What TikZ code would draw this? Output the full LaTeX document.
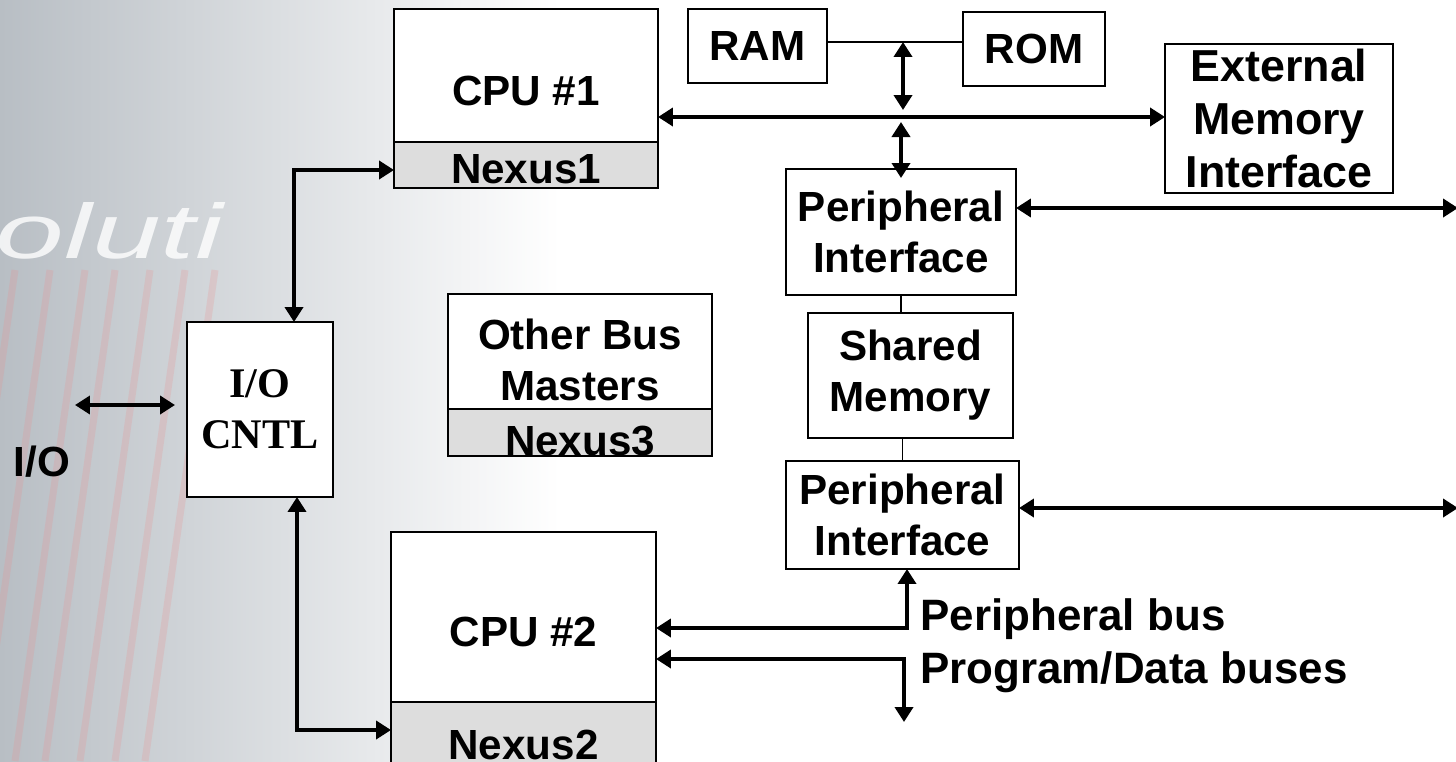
\documentclass[tikz,border=0pt]{standalone}
\usepackage{fontspec}
\setmainfont{Liberation Sans}
\newfontfamily\cntlfont{Liberation Serif}
\usetikzlibrary{positioning, arrows.meta}
\definecolor{nexusgray}{RGB}{221,221,221}
\definecolor{bggray}{RGB}{184,190,196}
\definecolor{streak}{RGB}{236,140,140}
\tikzset{
  blk/.style={draw, line width=1.1pt, fill=white, inner sep=0pt, outer sep=0pt, align=center},
  nexus/.style={blk, fill=nexusgray},
  bus/.style={{Triangle[length=0.3cm,width=0.36cm]}-{Triangle[length=0.3cm,width=0.36cm]}, line width=2.8pt},
  wire/.style={line width=0.9pt},
}
\begin{document}
\begin{tikzpicture}[x=0.02cm, y=-0.02cm, font=\bfseries\fontsize{24}{29}\selectfont]
\useasboundingbox (0,0) rectangle (1456,761);
% Draw background
\shade[left color=bggray, right color=white] (0,0) rectangle (560,761);
\foreach \x in {15,50,85,115,150,185,215}
    \draw[streak, line width=4pt, opacity=0.22] (\x,270) -- (\x-70,761);
\node[white, opacity=0.8, font=\mdseries\itshape\fontsize{44}{44}\selectfont, xscale=1.6, anchor=base west] (wmark) at (-14,258) {oluti};
% Draw blocks
\node[blk, minimum width=5.28cm, minimum height=2.66cm, label={[name=cpu1lbl, yshift=-0.3cm]center:CPU \#1}] (cpu1) at (526,75.5) {};
\node[nexus, minimum width=5.28cm, minimum height=0.92cm, below=0pt of cpu1, label={[name=nexus1lbl, yshift=-0.08cm]center:Nexus1}] (nexus1) {};
\node[blk, minimum width=2.78cm, minimum height=1.48cm] (ram) at (757.5,46) {RAM};
\node[blk, minimum width=2.84cm, minimum height=1.48cm] (rom) at (1034,49) {ROM};
\node[blk, minimum width=4.56cm, minimum height=2.98cm, font=\bfseries\fontsize{25.5}{30}\selectfont] (emi) at (1279,118.5) {External\\Memory\\Interface};
\node[blk, minimum width=4.6cm, minimum height=2.52cm] (pi1) at (901,232) {Peripheral\\Interface};
\node[blk, minimum width=4.1cm, minimum height=2.5cm] (shm) at (910.5,375.5) {Shared\\Memory};
\node[blk, minimum width=4.66cm, minimum height=2.16cm] (pi2) at (902.5,515) {Peripheral\\Interface};
\node[blk, minimum width=5.28cm, minimum height=2.3cm, label={[name=obmlbl, align=center, yshift=-0.16cm]center:{Other Bus\\Masters}}] (obm) at (580,351.5) {};
\node[nexus, minimum width=5.28cm, minimum height=0.94cm, below=0pt of obm, label={[name=nexus3lbl, yshift=-0.17cm]center:Nexus3}] (nexus3) {};
\node[blk, minimum width=2.92cm, minimum height=3.5cm, font=\cntlfont\bfseries\fontsize{24}{29}\selectfont] (iocntl) at (260,409.5) {I/O\\CNTL};
\node[blk, minimum width=5.3cm, minimum height=3.4cm, label={[name=cpu2lbl, yshift=-0.3cm]center:CPU \#2}] (cpu2) at (523.5,617) {};
\node[nexus, minimum width=5.3cm, minimum height=1.36cm, below=0pt of cpu2, label={[name=nexus2lbl, yshift=-0.18cm]center:Nexus2}] (nexus2) {};
% Main bus and memories
\coordinate (memtap) at (903,42);
\coordinate (mainbus) at (903,117);
\draw[wire] (ram.east |- memtap) -- (rom.west |- memtap);
\draw[bus, shorten >=0.14cm] (memtap) -- (mainbus);
\draw[bus] (cpu1.east |- mainbus) -- (emi.west |- mainbus);
\draw[bus, shorten <=0.1cm, shorten >=-0.18cm] (pi1.north |- mainbus) -- (pi1.north);
% Peripheral outputs
\coordinate (pi1out) at (1458,208);
\coordinate (pi2out) at (1458,508);
\draw[bus] (pi1.east |- pi1out) -- (pi1out);
\draw[bus] (pi2.east |- pi2out) -- (pi2out);
\draw[wire] (pi1.south) -- (pi1.south |- shm.north);
\draw[wire] (pi2.north |- shm.south) -- (pi2.north);
% CPU #2 buses
\coordinate (pbus) at (907,628);
\coordinate (pdbus) at (904,659);
\coordinate (pdend) at (904,722);
\draw[bus] (cpu2.east |- pbus) -- (pbus) -- (pbus |- pi2.south);
\draw[bus] (cpu2.east |- pdbus) -- (pdbus) -- (pdend);
\node[anchor=base west, inner sep=0pt, font=\bfseries\fontsize{25}{29}\selectfont] (pbuslbl) at (920,630) {Peripheral bus};
\node[anchor=base west, inner sep=0pt, font=\bfseries\fontsize{25}{29}\selectfont] (pdbuslbl) at (920,683) {Program/Data buses};
% I/O controller links
\coordinate (ioup) at (294,170);
\coordinate (iodown) at (297,730);
\coordinate (ioext) at (75,405);
\draw[bus] (ioup |- iocntl.north) -- (ioup) -- (nexus1.west |- ioup);
\draw[bus] (iodown |- iocntl.south) -- (iodown) -- (nexus2.west |- iodown);
\draw[bus, shorten >=0.24cm] (ioext) -- (iocntl.west |- ioext);
\node (iolbl) at (42,462) {I/O};
\end{tikzpicture}
\end{document}
